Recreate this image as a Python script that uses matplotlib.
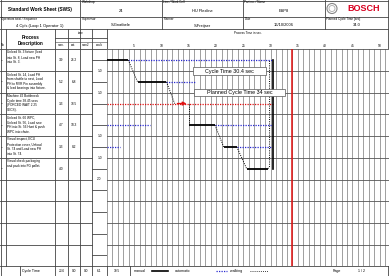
import numpy as np
import matplotlib.pyplot as plt
from matplotlib.patches import Circle, Rectangle

plt.rcParams['font.family'] = ['Liberation Sans', 'DejaVu Sans']

# === Header data ===
title = "Standard Work Sheet (SWS)"
header_cells = [
    ("Workshop", "24"),
    ("Line / Work Cell", "HU Flexline"),
    ("Part no. / Name", "ESP8"),
    ("Operators total / Sequence", "4 Op's (Loop 1 Operator 1)"),
    ("Supervisor", "S.Gnatbele"),
    ("Planner", "S.Freijser"),
    ("Date", "16/10/2006"),
    ("Planned Cycle Time [sec]", "34.0"),
]

# === Process steps ===
descriptions = [
    "Unload St. 3 fixture (load\ninto St. 8, Load new PH\ninto St. 3.",
    "Unload St. 14, Load PH\nfrom shuttle to nest, Load\nPH to RVR Pin assembly\n& load bearings into fixture.",
    "Machine 42 Bottleneck\nCycle time 38.45 secs\n(FORCED WAIT 2.25\nSECS).",
    "Unload St. 60 WPC,\nUnload St. 56, Load new\nPH into St. 56 Hunt & push\nWPC into chute.",
    "Visual inspect, ECU\nProtection cover, Unload\nSt. 74 and Load new PH\ninto St. 74.",
    "Visual check packaging\nand pack into FG pallet.",
]
man_time = [3.9, 5.2, 3.3, 4.7, 3.3, 4.0]
aut_time = [26.2, 6.8, 38.5, 18.3, 8.2, None]
walk_time = [1.0, 1.0, None, 1.0, 1.0, 2.0]   # walk after each step
totals = ["23.6", "0.0", "0.0", "6.1", "30.5"]

# === Timeline (sec) ===
man_start = [0.0, 5.6, 12.4, 15.1, 21.4, 25.6]
man_end = [3.9, 10.9, 15.1, 19.8, 23.8, 29.5]
auto_segments = {0: [(3.9, 30.2)], 1: [(10.9, 16.4)], 3: [(19.8, 30.2), (0.0, 7.9)],
                 4: [(23.8, 30.2), (0.0, 2.4)]}
bottleneck_row = 2
return_walk = 29.8
cycle_time = 30.4
planned_cycle = 34.0
xmax = 51.7
n_rows = 10

fig = plt.figure(figsize=(3.89, 2.76), dpi=100)

# --- layout axes in pixel coordinates ---
lay = fig.add_axes([0, 0, 1, 1])
lay.set_xlim(0, 389)
lay.set_ylim(276, 0)
lay.axis('off')

lc = '#444444'
lw = 0.6
row_top = 49.3
row_h = 21.7
row_bot = row_top + n_rows * row_h

# outer header grid
for y in [0.5, 16.7, 29.3]:
    lay.plot([0, 389], [y, y], color=lc, lw=lw)
lay.plot([0, 389], [row_top, row_top], color=lc, lw=lw)
lay.plot([0, 389], [row_bot, row_bot], color=lc, lw=lw)
lay.plot([0, 389], [275.5, 275.5], color=lc, lw=lw)
for x in [80, 162, 243, 325]:
    lay.plot([x, x], [0, 29.3], color=lc, lw=lw)
lay.plot([388.5, 388.5], [0, 276], color=lc, lw=lw)
lay.plot([0.5, 0.5], [0, 276], color=lc, lw=lw)

lay.text(40, 9, title, ha='center', va='center', fontsize=3.4, fontweight='bold')
cell_x = [(80, 162), (162, 243), (243, 325), (0, 80), (80, 162), (162, 243), (243, 325), (325, 389)]
cell_y = [(0, 16.7), (0, 16.7), (0, 16.7), (16.7, 29.3), (16.7, 29.3), (16.7, 29.3), (16.7, 29.3), (16.7, 29.3)]
for (lab, val), (x0, x1), (y0, y1) in zip(header_cells, cell_x, cell_y):
    lay.text(x0 + 1.5, y0 + 2.3, lab, ha='left', va='center', fontsize=2.2)
    lay.text((x0 + x1) / 2, (y0 + y1) / 2 + 2.5, val, ha='center', va='center', fontsize=2.9)

# bosch logo
lay.add_patch(Circle((332, 8.5), 5, fill=False, ec='#888888', lw=0.8))
lay.add_patch(Circle((332, 8.5), 3, fill=False, ec='#aaaaaa', lw=0.6))
lay.text(364, 8.8, "BOSCH", ha='center', va='center', fontsize=6.5, fontweight='bold', color='#d7001f')

# column header row
cols = [6, 55, 68, 80, 92, 107]
for x in cols:
    lay.plot([x, x], [29.3, row_bot], color=lc, lw=lw)
lay.plot([55, 107], [37.5, 37.5], color=lc, lw=lw)
lay.plot([55, 107], [41.5, 41.5], color=lc, lw=0.4)
lay.text(3, 45, "No", ha='center', va='center', fontsize=2.2)
lay.text(30.5, 37.5, "Process", ha='center', va='center', fontsize=3.3, fontweight='bold')
lay.text(30.5, 44, "Description", ha='center', va='center', fontsize=3.3, fontweight='bold')
lay.text(81, 33.5, "time", ha='center', va='center', fontsize=2.2)
for lab, x0, x1 in zip(["man.", "aut.", "man2", "walk"], cols[1:-1], cols[2:]):
    lay.text((x0 + x1) / 2, 45.5, lab, ha='center', va='center', fontsize=2.2)
lay.text(248, 32.5, "Process Time in sec.", ha='center', va='center', fontsize=2.2)

# table rows
for i in range(1, n_rows):
    y = row_top + i * row_h
    lay.plot([0, 92], [y, y], color=lc, lw=lw)
for i in range(n_rows):
    yc = row_top + (i + 0.5) * row_h
    lay.plot([92, 107], [yc, yc], color=lc, lw=lw)
for i, desc in enumerate(descriptions):
    y0 = row_top + i * row_h
    lay.text(1, y0 + row_h / 2, "–", ha='left', va='center', fontsize=2.5)
    lay.text(7, y0 + 1.2, desc, ha='left', va='top', fontsize=2.25, linespacing=1.25)
    lay.text(61.5, y0 + row_h / 2, f"{man_time[i]:.1f}", ha='center', va='center', fontsize=2.3)
    if aut_time[i] is not None:
        lay.text(74, y0 + row_h / 2, f"{aut_time[i]:.1f}", ha='center', va='center', fontsize=2.3)
    if walk_time[i] is not None:
        lay.text(99.5, y0 + row_h, f"{walk_time[i]:.1f}", ha='center', va='center', fontsize=2.3)

# bottom row
yb = (row_bot + 276) / 2
lay.text(22, yb, "Cycle Time", ha='left', va='center', fontsize=2.6)
for val, x in zip(totals, [61.5, 74, 86, 99.5, 117]):
    lay.text(x, yb, val, ha='center', va='center', fontsize=2.3)
for x in [20, 55, 68, 80, 92, 107, 130]:
    lay.plot([x, x], [row_bot, 276], color=lc, lw=lw)
lay.text(140, yb, "manual", ha='center', va='center', fontsize=2.6)
lay.plot([152, 168], [yb, yb], color='black', lw=1.2)
lay.text(175, yb, "automatic", ha='left', va='center', fontsize=2.6)
lay.plot([216, 227], [yb, yb], color='#2a2ad0', lw=0.9, ls=(0, (1, 1)))
lay.text(230, yb, "walking", ha='left', va='center', fontsize=2.6)
lay.plot([250, 268], [yb, yb], color='black', lw=0.6, ls=(0, (1, 1.5)))
lay.text(337, yb, "Page", ha='center', va='center', fontsize=2.6)
lay.text(362, yb, "1 / 2", ha='center', va='center', fontsize=2.6)

# --- chart axes ---
ax = fig.add_axes([107 / 389, (276 - row_bot) / 276, (389 - 107) / 389, (row_bot - row_top) / 276])
ax.set_xlim(0, xmax)
ax.set_ylim(n_rows, 0)
ax.set_xticks(np.arange(5, 51, 5))
ax.set_xticks(np.arange(0, 52, 1), minor=True)
ax.set_yticks(np.arange(0, n_rows + 1))
ax.xaxis.tick_top()
ax.tick_params(axis='x', which='both', length=0, pad=1, labelsize=2.4)
ax.tick_params(axis='y', which='both', length=0, labelleft=False)
ax.grid(True, which='both', axis='x', color='#8f8f8f', lw=0.6)
ax.grid(True, which='major', axis='y', color='#555555', lw=0.6)
ax.set_axisbelow(True)
for s in ax.spines.values():
    s.set_visible(False)

blue = '#2a2ad0'
red = '#e01010'
centers = np.arange(len(man_start)) + 0.5
for i in range(len(man_start)):
    if i == bottleneck_row:
        ax.plot([0, cycle_time], [centers[i]] * 2, color=red, lw=0.9, ls=(0, (1, 1)))
        ax.annotate("", xy=(man_end[i], centers[i]), xytext=(man_start[i], centers[i]),
                    arrowprops=dict(arrowstyle='-|>', color=red, lw=1.0, mutation_scale=5))
    else:
        ax.plot([man_start[i], man_end[i]], [centers[i]] * 2, color='black', lw=1.3, solid_capstyle='butt')
    for a0, a1 in auto_segments.get(i, []):
        ax.plot([a0, a1], [centers[i]] * 2, color=blue, lw=0.9, ls=(0, (1, 1)))
    if i + 1 < len(man_start):
        ax.plot([man_end[i], man_start[i + 1]], [centers[i], centers[i + 1]],
                color='black', lw=0.7, ls=(0, (1, 1.3)))
# walk back to first step
ax.plot([man_end[-1], return_walk, return_walk], [centers[-1], centers[-1] - 0.1, centers[0]],
        color='black', lw=0.7, ls=(0, (1, 1.3)))
ax.plot([cycle_time, cycle_time], [centers[0], centers[-1]], color='black', lw=1.2)
ax.axvline(planned_cycle, color=red, lw=1.1)

# labelled boxes
for label, cx, cy, w in [(f"Cycle Time {cycle_time} sec", 22.5, 1.0, 13.4),
                         (f"Planned Cycle Time {planned_cycle:.0f} sec", 24.3, 1.98, 16.6)]:
    ax.add_patch(Rectangle((cx - w / 2, cy - 0.17), w, 0.34, fc='white', ec='#555555', lw=0.5, zorder=3))
    ax.text(cx, cy, label, ha='center', va='center', fontsize=3.9, zorder=4)

fig.savefig("out.png", dpi=100)
